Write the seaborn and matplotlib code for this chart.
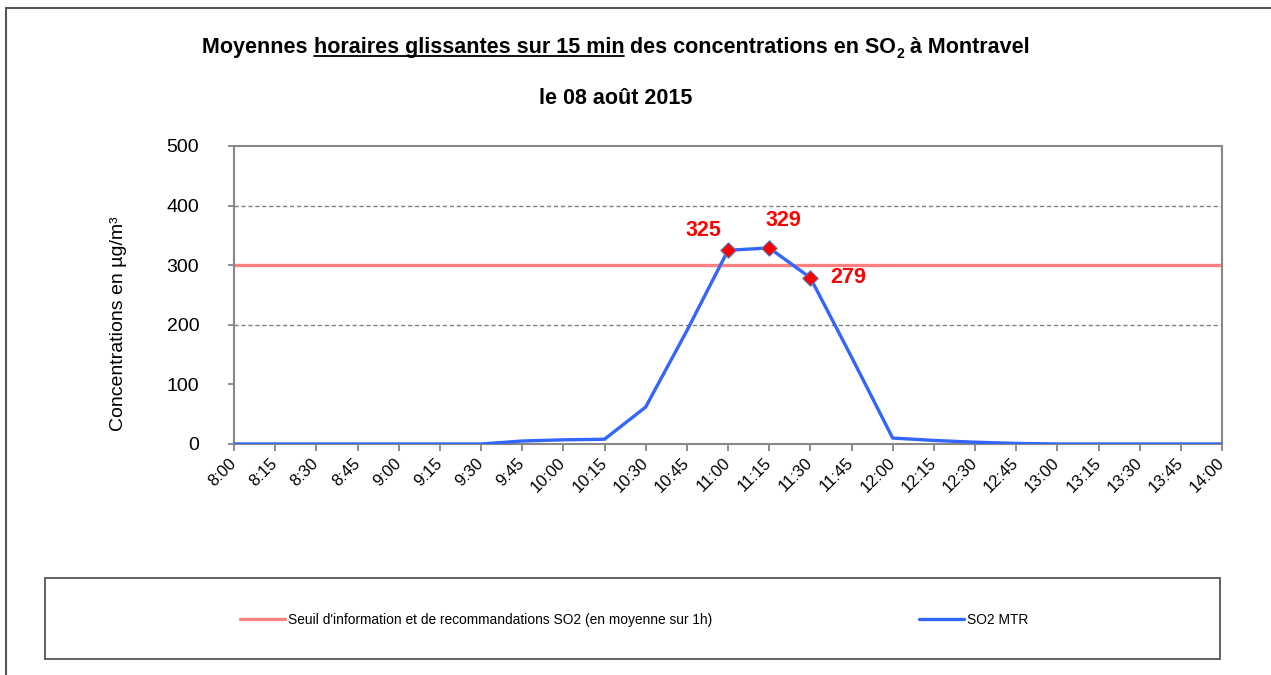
import matplotlib
matplotlib.use("Agg")
import matplotlib.pyplot as plt
from matplotlib.lines import Line2D
from matplotlib.patches import Rectangle
import seaborn as sns
import pandas as pd

# data
heures = ['8:00', '8:15', '8:30', '8:45', '9:00', '9:15', '9:30', '9:45', '10:00',
          '10:15', '10:30', '10:45', '11:00', '11:15', '11:30', '11:45', '12:00',
          '12:15', '12:30', '12:45', '13:00', '13:15', '13:30', '13:45', '14:00']
so2_mtr = [0, 0, 0, 0, 0, 0, 0, 5, 7, 8, 62, 190, 325, 329, 279, 146, 10,
           6, 3, 1, 0, 0, 0, 0, 0]
seuil = 300
labelled = ['11:00', '11:15', '11:30']

df = pd.DataFrame({'pos': range(len(heures)), 'heure': heures, 'so2': so2_mtr})
pts = df[df['heure'].isin(labelled)]

sns.set_theme(style='white')
plt.rcParams['font.family'] = ['Liberation Sans', 'DejaVu Sans']
plt.rcParams.update({'text.color': 'black', 'axes.labelcolor': 'black',
                     'xtick.color': 'black', 'ytick.color': 'black'})

W, H = 1271, 675
fig = plt.figure(figsize=(W / 100, H / 100), dpi=100)
ax = fig.add_axes([234 / W, 1 - 444 / H, (1222 - 234) / W, (444 - 146) / H])

c_red = '#FF8080'
c_blue = '#3366FF'

for g in [200, 400]:
    ax.axhline(g, color='#808080', lw=1, ls=(0, (3, 2)), zorder=1)
ax.axhline(seuil, color=c_red, lw=2.4, zorder=2,
           label="Seuil d'information et de recommandations SO2 (en moyenne sur 1h)")
sns.lineplot(data=df, x='pos', y='so2', ax=ax, color=c_blue, lw=2.4, zorder=3,
             label='SO2 MTR')
sns.scatterplot(data=pts, x='pos', y='so2', ax=ax, marker='D', s=62, color='red',
                edgecolor='#4F81BD', linewidth=0.8, zorder=4, legend=False)

# data labels
offsets = {'11:00': (-7, 20, 'right'), '11:15': (14, 27, 'center'), '11:30': (20, 0, 'left')}
for _, r in pts.iterrows():
    dx, dy, ha = offsets[r['heure']]
    ax.annotate(f"{r['so2']:.0f}", (r['pos'], r['so2']), xytext=(dx * 0.72, dy * 0.72),
                textcoords='offset points', ha=ha, va='center', color='red',
                fontsize=15.5, fontweight='bold')

ax.set_xlim(0, len(heures) - 1)
ax.set_ylim(0, 500)
ax.set_xticks(range(len(heures)))
ax.set_xticklabels(heures, rotation=45, ha='right', va='center', rotation_mode='anchor',
                   fontsize=12)
ax.set_yticks(range(0, 501, 100))
ax.tick_params(axis='y', labelsize=14, length=4, color='#808080', direction='out',
               left=True, pad=21)
ax.tick_params(axis='x', length=5, color='#808080', direction='out', bottom=True, pad=7)
ax.set_xlabel('')
ax.set_ylabel('Concentrations en µg/m³', fontsize=14)
ax.yaxis.set_label_coords((127 - 234) / (1222 - 234), (444 - 324) / (444 - 146))
for s in ax.spines.values():
    s.set_color('#888888')
    s.set_linewidth(1.5)
ax.get_legend().remove()

# title in pieces (underline + subscript)
fs = 15.5
base = 1 - 53 / H
parts = [('Moyennes ', False), ('horaires glissantes sur 15 min', True),
         (' des concentrations en SO', False)]
fig.canvas.draw()
renderer = fig.canvas.get_renderer()
texts = []
for txt, ul in parts:
    t = fig.text(0, base, txt, fontsize=fs, fontweight='bold', va='baseline', ha='left')
    texts.append((t, ul))
sub = fig.text(0, base - 5 / H, '2', fontsize=fs * 0.65, fontweight='bold',
               va='baseline', ha='left')
end = fig.text(0, base, ' à Montravel', fontsize=fs, fontweight='bold', va='baseline',
               ha='left')
widths = [t.get_window_extent(renderer).width / W for t, _ in texts]
wsub = sub.get_window_extent(renderer).width / W
wend = end.get_window_extent(renderer).width / W
total = sum(widths) + wsub + wend
x = 616 / W - total / 2
for (t, ul), w in zip(texts, widths):
    t.set_x(x)
    if ul:
        yl = 1 - 56 / H
        fig.add_artist(Line2D([x, x + w], [yl, yl], color='black', lw=1.3,
                              transform=fig.transFigure))
    x += w
sub.set_x(x)
x += wsub
end.set_x(x)

fig.text(616 / W, 1 - 98 / H, 'le 08 août 2015', fontsize=fs, fontweight='bold',
         ha='center', va='center')

# legend box
fig.add_artist(Rectangle((45 / W, 1 - 659 / H), (1220 - 45) / W, 81 / H,
                         transform=fig.transFigure, fill=False, ec='#555555', lw=1.3))
handles, labels = ax.get_legend_handles_labels()
fig.legend(handles, labels, loc='center', bbox_to_anchor=(634 / W, 1 - 620 / H),
           ncol=2, frameon=False, fontsize=9.9, handlelength=3.3, handletextpad=0.2,
           columnspacing=15.0)

# outer frame
fig.add_artist(Line2D([6 / W, 1], [1 - 8 / H, 1 - 8 / H], color='#555555', lw=1.5,
                      transform=fig.transFigure))
fig.add_artist(Line2D([6 / W, 6 / W], [0, 1 - 8 / H], color='#555555', lw=1.5,
                      transform=fig.transFigure))

fig.savefig('out.png', dpi=100)
